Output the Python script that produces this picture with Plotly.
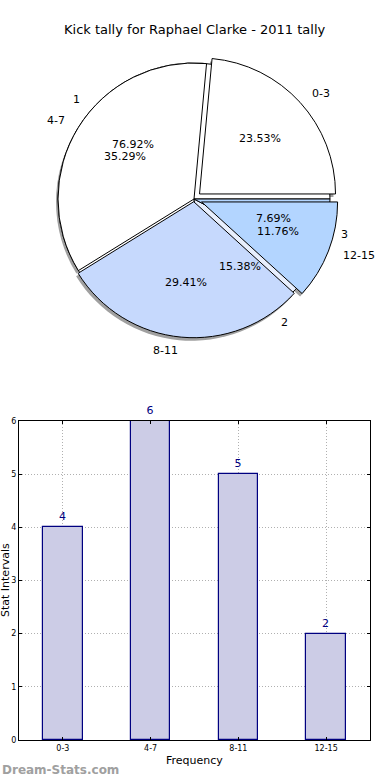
import math
import plotly.graph_objects as go

# ---- data ----
title_text = "Kick tally for Raphael Clarke - 2011 tally"
interval_labels = ["0-3", "4-7", "8-11", "12-15"]
interval_counts = [4, 6, 5, 2]
tally_labels = ["1", "2", "3"]
tally_counts = [10, 2, 1]
bar_categories = ["0-3", "4-7", "8-11", "12-15"]
bar_values = [4, 6, 5, 2]

# ---- styles ----
W, H = 390, 780
CX, CY, R = 194, 199, 136            # pie centre & radius in px
pull_a = [0.055, 0.0, 0.02, 0.06]
pull_b = [0.0, 0.0, 0.0]
colors_a = ["#ffffff", "#ffffff", "#c6d9fd", "#b3d5ff"]
colors_b = ["#ffffff", "#e8effd", "#b3d5ff"]
FONT = "DejaVu Sans"


def domain_for(cx, cy, r, maxpull):
    half = r * (1 + maxpull)
    return dict(x=[(cx - half) / W, (cx + half) / W],
                y=[1 - (cy + half) / H, 1 - (cy - half) / H])


def start_rotation(values):
    # plotly (counterclockwise) puts the first slice clockwise of `rotation`;
    # we want the first slice to start at 3 o'clock going counterclockwise.
    return 90 - 360.0 * values[0] / sum(values)


fig = go.Figure()

# shadow
fig.add_trace(go.Pie(values=interval_counts, labels=interval_labels, sort=False,
                     direction="counterclockwise", rotation=start_rotation(interval_counts),
                     pull=pull_a,
                     marker=dict(colors=["#a0a0a0"] * 4, line=dict(width=0)),
                     textinfo="none", hoverinfo="skip", showlegend=False,
                     domain=domain_for(CX - 2, CY + 3, R, max(pull_a))))
# tally pie (below)
fig.add_trace(go.Pie(values=tally_counts, labels=tally_labels, sort=False,
                     direction="counterclockwise", rotation=start_rotation(tally_counts),
                     pull=pull_b,
                     marker=dict(colors=colors_b, line=dict(color="black", width=1)),
                     textinfo="none", showlegend=False,
                     domain=domain_for(CX, CY, R, max(pull_b))))
# intervals pie (on top)
fig.add_trace(go.Pie(values=interval_counts, labels=interval_labels, sort=False,
                     direction="counterclockwise", rotation=start_rotation(interval_counts),
                     pull=pull_a,
                     marker=dict(colors=colors_a, line=dict(color="black", width=1)),
                     textinfo="none", showlegend=False,
                     domain=domain_for(CX, CY, R, max(pull_a))))

annotations = []


def pie_annotations(labels, values, pulls):
    tot = sum(values)
    start = 0.0
    for lab, v, p in zip(labels, values, pulls):
        frac = v / tot
        mid = math.radians((start + frac / 2) * 360)
        start += frac
        ox = CX + p * R * math.cos(mid)
        oy = CY - p * R * math.sin(mid)
        lx = ox + 1.1 * R * math.cos(mid)
        ly = oy - 1.1 * R * math.sin(mid)
        annotations.append(dict(x=lx / W, y=1 - ly / H, xref="paper", yref="paper",
                                text=lab, showarrow=False,
                                xanchor="left" if math.cos(mid) > 0 else "right",
                                yanchor="middle", font=dict(size=11, color="black", family=FONT)))
        px = ox + 0.6 * R * math.cos(mid)
        py = oy - 0.6 * R * math.sin(mid)
        annotations.append(dict(x=px / W, y=1 - py / H, xref="paper", yref="paper",
                                text="%.2f%%" % (100 * frac), showarrow=False,
                                xanchor="center", yanchor="middle",
                                font=dict(size=11, color="black", family=FONT)))


pie_annotations(tally_labels, tally_counts, pull_b)
pie_annotations(interval_labels, interval_counts, pull_a)

# bar chart
fig.add_trace(go.Bar(x=bar_categories, y=bar_values, width=0.45,
                     marker=dict(color="#ccccE6", line=dict(color="#000080", width=1.2)),
                     text=[str(v) for v in bar_values], textposition="outside",
                     textfont=dict(color="#000080", size=11, family=FONT),
                     cliponaxis=False, showlegend=False, xaxis="x", yaxis="y"))

grid = dict(showgrid=True, gridcolor="#b0b0b0", griddash="1px,2px", gridwidth=1)
fig.update_layout(
    width=W, height=H, margin=dict(l=0, r=0, t=0, b=0, autoexpand=False),
    paper_bgcolor="white", plot_bgcolor="white",
    font=dict(family=FONT, color="black"),
    xaxis=dict(domain=[19 / W, 370 / W], range=[-0.5, 3.5], type="category",
               showline=True, linecolor="black", linewidth=1, mirror="allticks",
               ticks="inside", ticklen=3, tickcolor="black", automargin=False,
               tickfont=dict(size=8), zeroline=False, **grid),
    yaxis=dict(domain=[1 - 740 / H, 1 - 421 / H], range=[0, 6], dtick=1,
               showline=True, linecolor="black", linewidth=1, mirror="allticks",
               ticks="inside", ticklen=3, tickcolor="black", automargin=False,
               tickfont=dict(size=8), zeroline=False, **grid),
    bargap=0,
)

annotations += [
    dict(x=0.5, y=1 - 30 / H, xref="paper", yref="paper", text=title_text,
         showarrow=False, xanchor="center", yanchor="middle",
         font=dict(size=13, family=FONT)),
    dict(x=194 / W, y=1 - 760 / H, xref="paper", yref="paper", text="Frequency",
         showarrow=False, xanchor="center", yanchor="middle", font=dict(size=11, family=FONT)),
    dict(x=5 / W, y=1 - 580 / H, xref="paper", yref="paper", text="Stat Intervals",
         showarrow=False, textangle=-90, xanchor="center", yanchor="middle",
         font=dict(size=11, family=FONT)),
    dict(x=0, y=1 - 770 / H, xref="paper", yref="paper", text="<b>Dream-Stats.com</b>",
         showarrow=False, xanchor="left", yanchor="middle",
         font=dict(size=12, color="#a0a0a0", family=FONT)),
]
fig.update_layout(annotations=annotations)

fig.write_html("out.html", config={"displayModeBar": False},
               post_script="document.body.style.margin='0';document.body.style.overflow='hidden';")
